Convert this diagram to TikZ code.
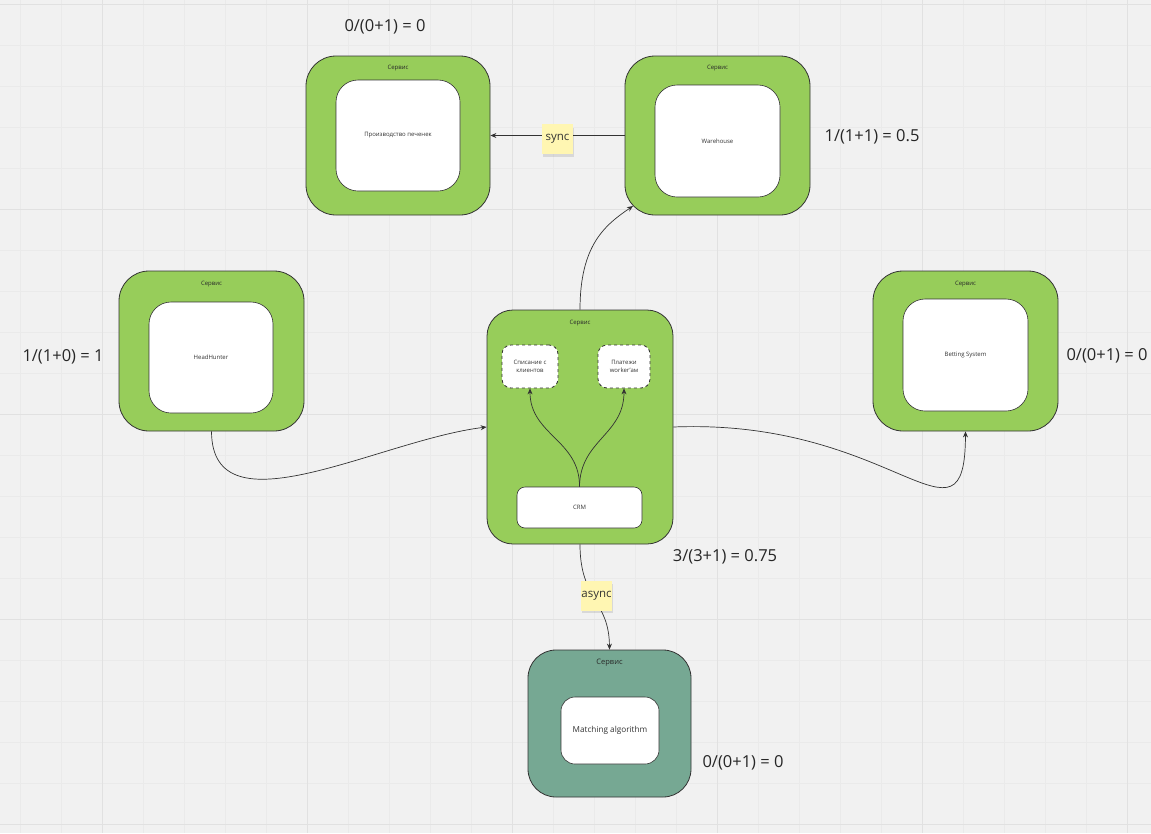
\documentclass[tikz,border=0pt]{standalone}
\usepackage{fontspec}
\setmainfont{Open Sans}
\usetikzlibrary{arrows.meta,calc}
\definecolor{bg}{HTML}{F1F1F1}
\definecolor{gminor}{HTML}{EAEAEA}
\definecolor{gmajor}{HTML}{E1E1E1}
\definecolor{svcgreen}{HTML}{97CD5A}
\definecolor{svcteal}{HTML}{76A893}
\definecolor{sticky}{HTML}{FFF6B2}
\definecolor{ink}{HTML}{333333}
\tikzset{
  svc/.style={draw=ink, line width=0.8pt, fill=svcgreen, rounded corners=30pt, rectangle, inner sep=0pt},
  inbox/.style={draw=ink, line width=0.6pt, fill=white, rounded corners=22pt, rectangle, inner sep=0pt, font=\fontsize{6}{7.5}\selectfont, text=ink, align=center},
  dbox/.style={draw=ink, line width=0.8pt, dashed, fill=white, rounded corners=9pt, rectangle, inner sep=0pt, font=\fontsize{6}{7.5}\selectfont, text=ink, align=center},
  svclabel/.style={font=\fontsize{6}{7.5}\selectfont, text=ink!80!black},
  formula/.style={font=\fontsize{16.5}{19}\selectfont, text=black!85},
  note/.style={fill=sticky, rectangle, inner sep=0pt, minimum width=31pt, minimum height=30pt, font=\fontsize{11.5}{13}\selectfont, text=ink},
  conn/.style={draw=ink, line width=0.7pt, -{Stealth[length=6pt,width=5pt]}},
}
\begin{document}
\begin{tikzpicture}[x=1pt,y=-1pt]
\useasboundingbox (0,0) rectangle (1151,833);
\fill[bg] (0,0) rectangle (1151,833);
% grid
\foreach \i in {0,...,28} {
  \draw[gminor, line width=0.6pt] ({20+41*\i},0) -- ({20+41*\i},833);
}
\foreach \i in {0,...,20} {
  \draw[gminor, line width=0.6pt] (0,{4+41*\i}) -- (1151,{4+41*\i});
}
\foreach \xx in {102,307,512,717,922,1127} {
  \draw[gmajor, line width=1pt] (\xx,0) -- (\xx,833);
}
\foreach \yy in {4,209,414,619,824} {
  \draw[gmajor, line width=1pt] (0,\yy) -- (1151,\yy);
}

% Производство печенек
\node[svc, minimum width=184pt, minimum height=159pt] (prod) at (398,135.5) {};
\node[svclabel] (prodl) at (398,68) {Сервис};
\node[inbox, minimum width=124pt, minimum height=111pt] (prodin) at (398,135.5) {Производство печенек};

% Warehouse
\node[svc, minimum width=185pt, minimum height=159pt] (wh) at (717.5,135.5) {};
\node[svclabel] (whl) at (717.5,68) {Сервис};
\node[inbox, minimum width=125pt, minimum height=112pt] (whin) at (717.5,141) {Warehouse};

% HeadHunter
\node[svc, minimum width=185pt, minimum height=160pt] (hh) at (211.5,351) {};
\node[svclabel] (hhl) at (211.5,284) {Сервис};
\node[inbox, minimum width=124pt, minimum height=111pt] (hhin) at (211,357.5) {HeadHunter};

% Betting System
\node[svc, minimum width=185pt, minimum height=160pt] (bet) at (965.5,351) {};
\node[svclabel] (betl) at (965.5,284) {Сервис};
\node[inbox, minimum width=125pt, minimum height=112pt] (betin) at (965.5,355) {Betting System};

% CRM service
\node[svc, rounded corners=26pt, minimum width=186pt, minimum height=234pt] (crmsvc) at (580,427) {};
\node[svclabel] (crml) at (580,323) {Сервис};
\node[dbox, minimum width=56pt, minimum height=43pt] (spis) at (530,366.5) {Списание с\\клиентов};
\node[dbox, minimum width=52pt, minimum height=43pt] (plat) at (624,366.5) {Платежи\\worker'ам};
\node[inbox, rounded corners=8pt, minimum width=125pt, minimum height=41pt] (crm) at (579.5,507.5) {CRM};

% Matching
\node[svc, fill=svcteal, rounded corners=28pt, minimum width=163pt, minimum height=147pt] (mat) at (609.5,723.5) {};
\node[svclabel, font=\fontsize{7.5}{9}\selectfont] (matl) at (609.5,663) {Сервис};
\node[inbox, rounded corners=14pt, font=\fontsize{8.2}{10}\selectfont, minimum width=98pt, minimum height=67pt] (matin) at (610,730.5) {Matching algorithm};

% formulas
\node[formula] (f1) at (385,27) {0/(0+1) = 0};
\node[formula] (f2) at (872,137) {1/(1+1) = 0.5};
\node[formula] (f3) at (63,357) {1/(1+0) = 1};
\node[formula] (f4) at (1107,356) {0/(0+1) = 0};
\node[formula] (f5) at (725,557) {3/(3+1) = 0.75};
\node[formula] (f6) at (743,763) {0/(0+1) = 0};

% connectors
\coordinate (whtip) at (633,206);
\draw[conn] (wh.west) -- (prod.east);
\draw[conn] (crmsvc.north) .. controls (580,245) and (605,225) .. (whtip);
\draw[conn] (hh.south) .. controls (212,535) and (380,440) .. (crmsvc.west);
\draw[conn] (crmsvc.east) .. controls (895,418) and (965,562) .. (bet.south);
\draw[conn] (crmsvc.south) .. controls (580,600) and (609,600) .. (mat.north);
\draw[conn] (crm.north) .. controls (580,440) and (530,435) .. (spis.south);
\draw[conn] (crm.north) .. controls (580,440) and (624,435) .. (plat.south);

% sticky notes
\fill[black, opacity=0.10] (543,128) rectangle (574,157);
\node[note] (sync) at (557.5,138.5) {sync};
\fill[black, opacity=0.10] (582,584) rectangle (613,613);
\node[note] (async) at (596.5,595.5) {async};
\end{tikzpicture}
\end{document}
